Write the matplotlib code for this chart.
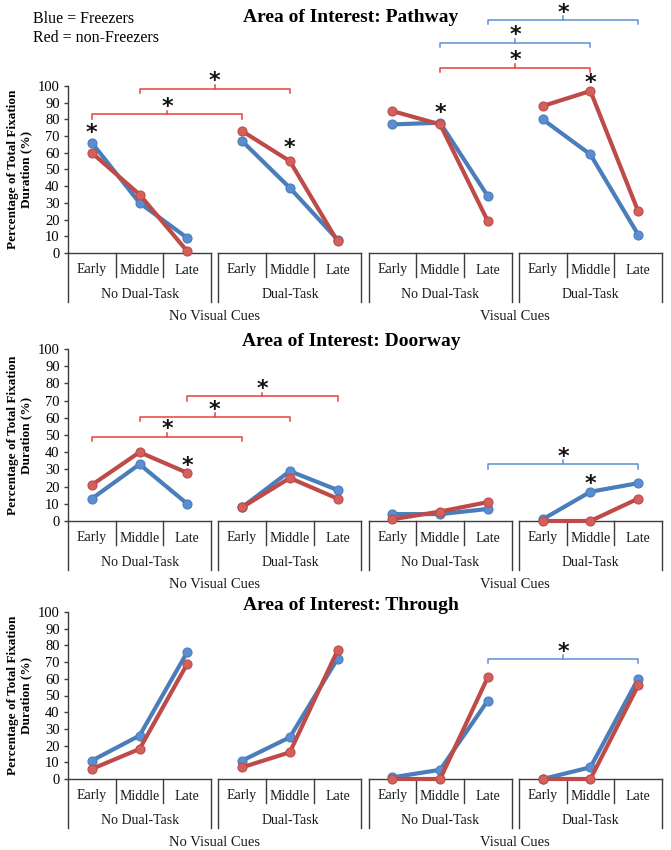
import matplotlib
matplotlib.use('Agg')
import matplotlib.pyplot as plt
from matplotlib.transforms import blended_transform_factory

# ---------------- data ----------------
stages = ['Early', 'Middle', 'Late']
tasks = ['No Dual-Task', 'Dual-Task']
cues = ['No Visual Cues', 'Visual Cues']
aoi_titles = ['Area of Interest: Pathway', 'Area of Interest: Doorway',
              'Area of Interest: Through']
y_ticks = [0, 10, 20, 30, 40, 50, 60, 70, 80, 90, 100]

# order of 12 slots: (NoVC,NoDT) E M L, (NoVC,DT) E M L, (VC,NoDT) E M L, (VC,DT) E M L
pathway_freezers = [66, 30, 9, 67, 39, 8, 77, 78, 34, 80, 59, 11]
pathway_nonfreezers = [60, 35, 1, 73, 55, 7, 85, 77, 19, 88, 97, 25]
doorway_freezers = [13, 33, 10, 8, 29, 18, 4, 4, 7, 1, 17, 22]
doorway_nonfreezers = [21, 40, 28, 8, 25, 13, 1, 5.5, 11, 0, 0, 13]
through_freezers = [11, 26, 76, 11, 25, 72, 1, 5.5, 47, 0, 7, 60]
through_nonfreezers = [6, 18, 69, 7, 16, 77, 0, 0, 61, 0, 0, 56]

freezers = [pathway_freezers, doorway_freezers, through_freezers]
nonfreezers = [pathway_nonfreezers, doorway_nonfreezers, through_nonfreezers]

# significance brackets: (slot_a, slot_b, level, colour)
pathway_brackets = [(0, 3, 83, 'r'), (1, 4, 98.5, 'r'), (7, 10, 111, 'r'),
                    (7, 10, 126, 'b'), (8, 11, 139.5, 'b')]
doorway_brackets = [(0, 3, 49, 'r'), (1, 4, 60.5, 'r'), (2, 5, 72.5, 'r'),
                    (8, 11, 33, 'b')]
through_brackets = [(8, 11, 72, 'b')]
brackets = [pathway_brackets, doorway_brackets, through_brackets]

# single-point asterisks: (slot, level)
pathway_stars = [(0, 75), (4, 66), (7, 87), (10, 105)]
doorway_stars = [(2, 35), (10, 25)]
through_stars = []
stars = [pathway_stars, doorway_stars, through_stars]

# ---------------- style ----------------
BLUE = '#4A7EBB'
RED = '#BE4B48'
BLUE_M = '#5B8ED0'
RED_M = '#D4605C'
BR_RED = '#E8403C'
BR_BLUE = '#5B92D3'
TBL = '#3C3C3C'
SERIF = ['Liberation Serif', 'DejaVu Serif']
STAR_KW = dict(ha='center', va='center', fontsize=16, family='DejaVu Sans',
               fontweight='bold', color='#111111', clip_on=False)
STAR_SHIFT = 3.2   # glyph sits above the text-box centre

W, H = 671, 850
fig = plt.figure(figsize=(W / 100, H / 100), dpi=100)

rows_px = [(86, 253), (349, 521), (612, 779)]
title_px = [17, 342, 605]
LEFT, RIGHT = 68, 662
GAP = 0.15
STEP = 3 + GAP


def slot_x(s):
    g, c = divmod(s, 3)
    return g * STEP + c


for r in range(3):
    top, bot = rows_px[r]
    ax = fig.add_axes([LEFT / W, 1 - bot / H, (RIGHT - LEFT) / W, (bot - top) / H])
    ax.set_xlim(-0.5, 3 * STEP + 2.5)
    ax.set_ylim(0, 100)
    ax_h = bot - top
    for sp in ['top', 'right', 'bottom']:
        ax.spines[sp].set_visible(False)
    ax.spines['left'].set_color(TBL)
    ax.spines['left'].set_linewidth(1.0)
    ax.set_xticks([])
    ax.set_yticks(y_ticks)
    ax.set_yticklabels([str(t) for t in y_ticks], family=SERIF, fontsize=10.5)
    ax.tick_params(axis='y', length=3, width=1.0, color=TBL, pad=3)

    # lines by group
    for g in range(4):
        xs = [slot_x(g * 3 + c) for c in range(3)]
        ax.plot(xs, freezers[r][g * 3:g * 3 + 3], color=BLUE, lw=3.0,
                marker='o', ms=6.5, mfc=BLUE_M, mec=BLUE, mew=0.8,
                solid_capstyle='round', clip_on=False, zorder=3)
    for g in range(4):
        xs = [slot_x(g * 3 + c) for c in range(3)]
        ax.plot(xs, nonfreezers[r][g * 3:g * 3 + 3], color=RED, lw=3.0,
                marker='o', ms=6.5, mfc=RED_M, mec=RED, mew=0.8,
                solid_capstyle='round', clip_on=False, zorder=4)

    # category table
    tr = blended_transform_factory(ax.transData, ax.transAxes)

    def fy(px):
        return -px / ax_h

    for g in range(4):
        gl = g * STEP - 0.5
        gr = g * STEP + 2.5
        ax.plot([gl, gr], [0, 0], color=TBL, lw=1.0, transform=tr, clip_on=False)
        ax.plot([gl, gl], [0, fy(49)], color=TBL, lw=1.0, transform=tr, clip_on=False)
        ax.plot([gr, gr], [0, fy(49)], color=TBL, lw=1.0, transform=tr, clip_on=False)
        for d in (1, 2):
            ax.plot([gl + d, gl + d], [0, fy(24)], color=TBL, lw=1.0,
                    transform=tr, clip_on=False)
        for c in range(3):
            ax.text(g * STEP + c, fy(17), stages[c], transform=tr, ha='center',
                    va='center', family=SERIF, fontsize=10, color='#1a1a1a')
        ax.text(g * STEP + 1, fy(41), tasks[g % 2], transform=tr, ha='center',
                va='center', family=SERIF, fontsize=10, color='#1a1a1a')
    for k in range(2):
        xc = (k * 2 * STEP - 0.5 + (k * 2 + 1) * STEP + 2.5) / 2
        ax.text(xc, fy(63), cues[k], transform=tr, ha='center', va='center',
                family=SERIF, fontsize=10.5, color='#1a1a1a')

    # brackets
    for (a, b, lev, col) in brackets[r]:
        c = BR_RED if col == 'r' else BR_BLUE
        xa, xb = slot_x(a), slot_x(b)
        xm = (xa + xb) / 2
        ax.plot([xa, xa, xb, xb], [lev - 2.6, lev, lev, lev - 2.6], color=c,
                lw=1.1, clip_on=False)
        ax.plot([xm, xm], [lev, lev + 2.2], color=c, lw=1.1, clip_on=False)
        ax.text(xm, lev + 7.5 - STAR_SHIFT, '*', **STAR_KW)
    for (s, lev) in stars[r]:
        ax.text(slot_x(s), lev - STAR_SHIFT, '*', **STAR_KW)

    # titles and y label
    fig.text(351 / W, 1 - title_px[r] / H, aoi_titles[r], ha='center', va='center',
             family=SERIF, fontweight='bold', fontsize=14)
    fig.text(20 / W, 1 - (top + bot) / 2 / H,
             'Percentage of Total Fixation\nDuration (%)', rotation=90,
             ha='center', va='center', family=SERIF, fontweight='bold',
             fontsize=9.5, linespacing=1.15, multialignment='center')

fig.text(33 / W, 1 - 19 / H, 'Blue = Freezers', ha='left', va='center',
         family=SERIF, fontsize=11.5)
fig.text(33 / W, 1 - 38 / H, 'Red = non-Freezers', ha='left', va='center',
         family=SERIF, fontsize=11.5)

fig.savefig('out.png', dpi=100)
